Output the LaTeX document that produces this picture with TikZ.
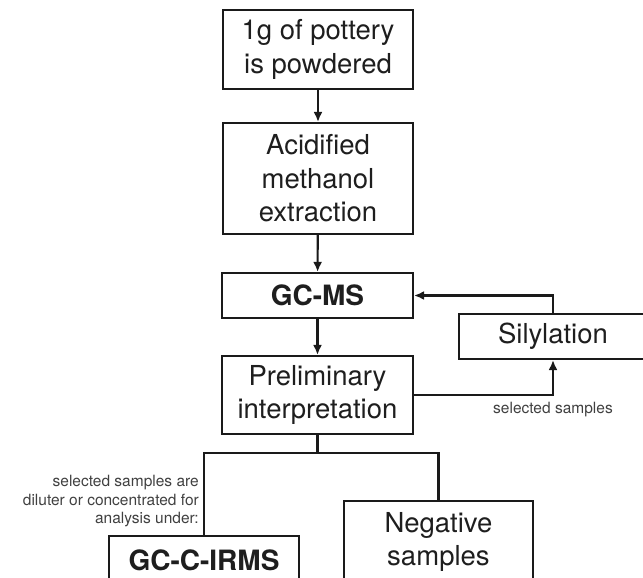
\documentclass[tikz,border=0pt]{standalone}
\usepackage{fontspec}
\setmainfont{TeX Gyre Heros}
\usetikzlibrary{arrows.meta}
\definecolor{txt}{HTML}{1E1E1E}
\definecolor{ln}{HTML}{1A1A1A}
\begin{document}
\begin{tikzpicture}[x=1pt,y=-1pt,
  box/.style={draw=ln,line width=2.1pt,inner sep=0pt,align=center,text=txt,
    font=\fontsize{27.5}{33.5}\selectfont},
  boldbox/.style={box,font=\fontsize{28}{33.5}\selectfont\bfseries},
  conn/.style={draw=ln,line width=2.1pt},
  arr/.style={conn,-{Latex[length=10pt,width=9pt]}},
  small/.style={inner sep=0pt,text=txt!85,font=\fontsize{15.5}{18.5}\selectfont}]
\useasboundingbox (0,0) rectangle (643,578);
\clip (0,0) rectangle (643,578);
\node[box,minimum width=190pt,minimum height=79pt] (b1) at (318,49.5) {1g of pottery\\is powdered};
\node[box,minimum width=190pt,minimum height=111pt] (b2) at (318,178.5) {Acidified\\methanol\\extraction};
\node[boldbox,minimum width=191pt,minimum height=45pt] (gcms) at (317.5,295.5) {GC-MS};
\node[box,minimum width=191pt,minimum height=78pt] (pre) at (317.5,395) {Preliminary\\interpretation};
\node[box,minimum width=188pt,minimum height=45pt] (sil) at (553,336.5) {Silylation};
\node[small] (lbl) at (553,410) {selected samples};
\node[boldbox,minimum width=190pt,minimum height=48pt] (irms) at (204,560) {GC-C-IRMS};
\node[box,minimum width=189pt,minimum height=82pt] (neg) at (438.5,542) {Negative\\samples};
\node[small,anchor=east,align=right] (note) at (199,501.5) {selected samples are\\diluter or concentrated for\\analysis under:};
\draw[arr] (b1) -- (b2);
\draw[arr] (b2) -- (gcms);
\draw[arr] (gcms) -- (pre);
\draw[arr] (sil.north) |- (gcms.east);
\draw[arr] (pre.east) -| (sil.south);
\draw[conn] (pre.south) -- ++(0,18) coordinate (j);
\draw[conn] (irms.north) |- (j) -| (neg.north);
\end{tikzpicture}
\end{document}
